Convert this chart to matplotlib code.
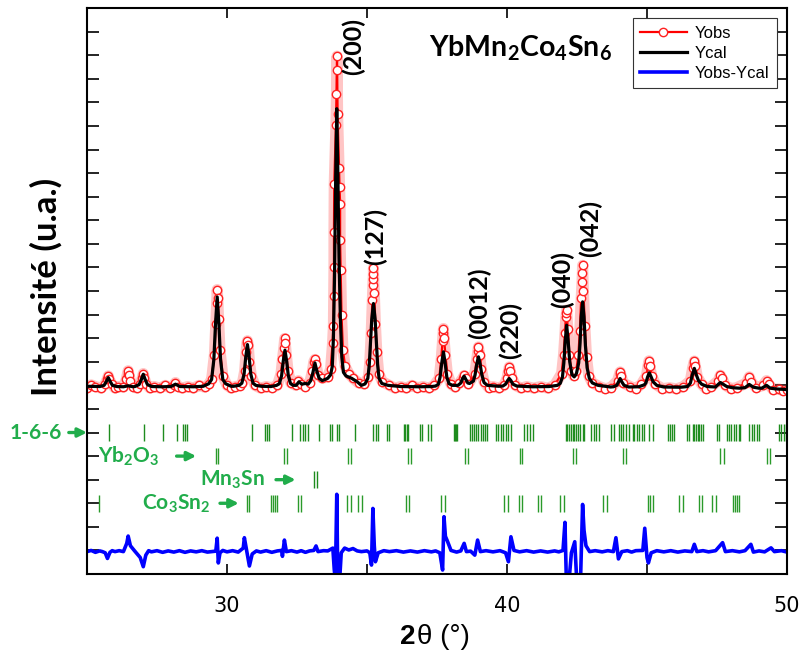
import numpy as np
from matplotlib import pyplot as plt

# Ycal (2theta, intensity in tick units)
ycal_pts = [
    (25.0, 7.96), (25.46, 7.95), (25.61, 8.0), (25.69, 8.16), (25.76, 8.33), (25.83, 8.16), (25.91, 8.0), (26.06, 7.95),
    (26.3, 7.94), (26.47, 7.98), (26.65, 7.94),
    (26.71, 7.95), (26.86, 8.03), (26.94, 8.24), (27.01, 8.47), (27.08, 8.24), (27.16, 8.03), (27.31, 7.95),
    (27.7, 7.94), (28.0, 7.95), (28.16, 8.05), (28.32, 7.95), (28.8, 7.94),
    (29.15, 7.96), (29.35, 8.07), (29.45, 8.25), (29.53, 9.09), (29.59, 10.61), (29.65, 11.75), (29.71, 10.61),
    (29.77, 9.09), (29.85, 8.25), (29.95, 8.07), (30.15, 7.96),
    (30.23, 7.96), (30.43, 8.0), (30.53, 8.09), (30.61, 8.48), (30.67, 9.2), (30.73, 9.73), (30.79, 9.2),
    (30.85, 8.48), (30.93, 8.09), (31.03, 8.0), (31.23, 7.96), (31.5, 7.95),
    (31.57, 7.95), (31.77, 8.0), (31.87, 8.07), (31.95, 8.41), (32.01, 9.03), (32.07, 9.49), (32.13, 9.03),
    (32.19, 8.41), (32.27, 8.07), (32.37, 8.0), (32.47, 8.0), (32.57, 8.15), (32.67, 8.05), (32.8, 8.08),
    (32.9, 8.05), (32.99, 8.2), (33.07, 8.55), (33.14, 8.95), (33.21, 8.6), (33.29, 8.3), (33.4, 8.2),
    (33.6, 8.3), (33.7, 8.45), (33.76, 8.8), (33.8, 10.0), (33.84, 12.6), (33.88, 16.6), (33.92, 19.73),
    (33.96, 16.9), (34.0, 13.4), (34.05, 10.8), (34.1, 9.2), (34.16, 8.55), (34.25, 8.4), (34.45, 8.3),
    (34.65, 8.15), (34.8, 8.0),
    (34.93, 8.06), (35.03, 8.3), (35.08, 8.86), (35.13, 9.9), (35.17, 10.8), (35.23, 11.47), (35.29, 10.8),
    (35.33, 9.9), (35.38, 8.86), (35.43, 8.3), (35.53, 8.08), (35.75, 8.0),
    (36.2, 7.95), (36.9, 7.94), (37.3, 7.95),
    (37.45, 7.97), (37.55, 8.05), (37.61, 8.35), (37.67, 8.95), (37.73, 9.42), (37.79, 8.95), (37.85, 8.35),
    (37.93, 8.07), (38.05, 8.0),
    (38.25, 8.0), (38.35, 8.1), (38.41, 8.28), (38.47, 8.39), (38.53, 8.25), (38.6, 8.1),
    (38.66, 8.08), (38.8, 8.18), (38.86, 8.45), (38.92, 8.9), (38.98, 9.21), (39.04, 8.9), (39.1, 8.45),
    (39.18, 8.12), (39.3, 8.0), (39.7, 7.96),
    (39.85, 7.97), (39.95, 8.05), (40.02, 8.2), (40.08, 8.29), (40.14, 8.2), (40.21, 8.05), (40.35, 7.97),
    (40.9, 7.94), (41.5, 7.95), (41.8, 8.0),
    (41.9, 8.08), (41.98, 8.35), (42.03, 8.95), (42.08, 9.9), (42.13, 10.55), (42.18, 9.95), (42.24, 9.0),
    (42.32, 8.45), (42.4, 8.36),
    (42.48, 8.5), (42.56, 8.95), (42.61, 9.8), (42.65, 10.9), (42.7, 11.54), (42.75, 10.9), (42.8, 9.7),
    (42.86, 8.75), (42.94, 8.3), (43.05, 8.1), (43.25, 8.0), (43.7, 7.93),
    (43.8, 7.94), (43.92, 8.0), (43.98, 8.15), (44.04, 8.29), (44.1, 8.15), (44.18, 8.0), (44.35, 7.93),
    (44.7, 7.94), (44.9, 8.02),
    (44.96, 8.1), (45.02, 8.35), (45.08, 8.53), (45.14, 8.38), (45.22, 8.15), (45.35, 8.0), (45.6, 7.93),
    (46.2, 7.92),
    (46.45, 7.95), (46.55, 8.1), (46.62, 8.45), (46.69, 8.72), (46.76, 8.45), (46.84, 8.2), (46.95, 8.05),
    (47.15, 7.95),
    (47.45, 7.93), (47.55, 8.05), (47.62, 8.12), (47.7, 8.06), (47.85, 7.95), (48.05, 7.9), (48.3, 7.88),
    (48.5, 7.9), (48.65, 8.04), (48.8, 7.92), (49.0, 7.88),
    (49.1, 7.88), (49.27, 8.0), (49.4, 7.88), (49.6, 7.85), (50.0, 7.82),
]

# Yobs
yobs_pts = [
    (25.0, 7.9), (25.15, 8.02), (25.3, 7.95), (25.5, 7.88), (25.65, 8.05), (25.72, 8.25), (25.76, 8.4), (25.8, 8.25),
    (25.88, 8.05), (26.0, 7.88), (26.1, 7.95), (26.3, 7.92), (26.4, 8.25), (26.45, 8.5), (26.47, 8.62), (26.5, 8.45),
    (26.55, 8.2), (26.65, 7.95), (26.78, 7.88), (26.9, 8.05), (26.97, 8.3), (27.01, 8.5), (27.05, 8.3), (27.12, 8.05),
    (27.25, 7.88), (27.4, 7.95), (27.6, 7.88), (27.8, 8.0), (27.95, 7.9), (28.1, 8.0), (28.16, 8.12), (28.25, 7.95),
    (28.4, 7.88), (28.6, 7.95), (28.8, 7.88), (29.0, 8.0), (29.2, 7.92), (29.35, 8.05),
    (29.45, 8.25), (29.55, 9.3), (29.6, 10.6), (29.63, 11.5), (29.65, 12.06), (29.67, 11.7), (29.7, 10.8),
    (29.75, 9.5), (29.85, 8.4), (30.0, 8.0), (30.15, 7.88), (30.3, 7.95), (30.45, 7.98),
    (30.55, 8.1), (30.63, 8.6), (30.68, 9.4), (30.71, 9.8), (30.73, 9.89), (30.76, 9.7), (30.8, 9.0),
    (30.87, 8.4), (31.0, 8.0), (31.2, 7.88), (31.4, 7.95), (31.6, 7.9), (31.8, 8.0),
    (31.93, 8.5), (31.98, 9.1), (32.03, 9.6), (32.06, 9.99), (32.08, 9.8), (32.12, 9.3), (32.18, 8.6),
    (32.28, 8.1), (32.45, 8.0), (32.55, 8.2), (32.65, 8.05), (32.8, 7.95),
    (32.95, 8.1), (33.05, 8.6), (33.1, 9.0), (33.14, 9.1), (33.18, 8.9), (33.25, 8.45), (33.4, 8.3),
    (33.6, 8.35), (33.7, 8.7), (33.77, 9.8), (33.8, 10.5), (33.81, 11.8), (33.82, 13.0), (33.82, 14.5),
    (33.83, 16.55), (33.89, 19.03), (33.91, 20.34), (33.92, 21.36), (33.93, 21.96), (33.95, 19.5),
    (34.0, 17.2), (34.02, 16.4), (34.04, 15.7), (34.04, 14.15), (34.06, 12.88), (34.09, 11.0),
    (34.14, 9.5), (34.22, 8.8), (34.35, 8.5), (34.5, 8.3), (34.7, 8.1),
    (34.9, 8.05), (35.05, 8.35), (35.1, 9.0), (35.15, 10.2), (35.19, 11.6), (35.21, 12.25), (35.22, 12.49),
    (35.23, 12.74), (35.23, 12.98), (35.26, 11.9), (35.3, 10.6), (35.35, 9.4), (35.42, 8.5), (35.55, 8.15),
    (35.8, 8.0), (36.0, 7.88), (36.2, 7.95), (36.4, 7.88), (36.6, 8.0), (36.8, 7.9), (37.0, 7.95), (37.2, 7.88),
    (37.4, 8.0), (37.58, 8.3), (37.65, 9.1), (37.7, 9.9), (37.72, 10.2), (37.73, 10.41), (37.75, 10.0), (37.8, 9.3),
    (37.87, 8.5), (38.0, 8.05), (38.15, 7.92), (38.3, 8.1), (38.42, 8.3), (38.47, 8.42), (38.52, 8.3), (38.62, 8.05),
    (38.85, 8.5), (38.92, 9.1), (38.96, 9.45), (38.98, 9.63), (39.02, 9.3), (39.08, 8.7), (39.18, 8.15),
    (39.35, 7.9), (39.5, 7.95), (39.7, 7.88), (39.9, 8.0), (40.0, 8.3), (40.05, 8.6), (40.08, 8.78), (40.12, 8.6),
    (40.18, 8.3), (40.3, 8.0), (40.5, 7.88), (40.7, 7.95), (40.95, 7.88), (41.2, 7.95), (41.45, 7.88), (41.7, 8.0),
    (41.95, 8.5), (42.02, 9.3), (42.07, 10.2), (42.1, 10.9), (42.12, 11.05), (42.13, 11.19), (42.17, 10.4),
    (42.23, 9.3), (42.3, 8.6), (42.38, 8.4), (42.47, 8.6), (42.55, 9.3), (42.6, 10.3), (42.65, 11.7),
    (42.68, 12.38), (42.69, 12.75), (42.7, 13.09), (42.73, 12.0), (42.78, 10.5), (42.84, 9.2), (42.92, 8.4),
    (43.05, 8.1), (43.3, 7.95), (43.5, 7.86), (43.7, 7.9),
    (43.95, 8.2), (44.02, 8.5), (44.04, 8.57), (44.08, 8.4), (44.15, 8.1), (44.4, 7.95), (44.6, 7.86), (44.8, 8.05),
    (44.98, 8.4), (45.04, 8.85), (45.07, 9.04), (45.1, 8.8), (45.17, 8.4), (45.3, 8.05), (45.55, 7.86), (45.8, 7.9),
    (46.05, 7.85), (46.3, 7.95), (46.55, 8.2), (46.63, 8.75), (46.67, 8.95), (46.69, 9.03), (46.73, 8.8), (46.8, 8.35),
    (46.95, 8.05), (47.1, 7.86), (47.3, 7.95), (47.55, 8.2), (47.62, 8.43), (47.68, 8.3), (47.8, 8.0), (48.0, 7.86),
    (48.2, 7.9), (48.55, 8.1), (48.65, 8.36), (48.72, 8.15), (48.9, 7.9), (49.15, 8.0), (49.27, 8.2), (49.35, 8.05),
    (49.5, 7.82), (49.7, 7.85), (49.85, 7.78), (50.0, 7.8),
]

# Yobs-Ycal as drawn (offset curve)
ydiff_pts = [
    (25.0, 0.95), (25.15, 1.0), (25.3, 0.92), (25.45, 0.98), (25.55, 0.95), (25.65, 0.9), (25.73, 0.66),
    (25.82, 0.92), (25.9, 0.99), (26.0, 0.95), (26.15, 0.99), (26.3, 0.95), (26.42, 1.3), (26.47, 1.61),
    (26.55, 1.2), (26.7, 0.98), (26.9, 0.7), (27.01, 0.31), (27.1, 0.8), (27.2, 0.99), (27.3, 0.94),
    (27.5, 0.99), (27.7, 0.92), (27.9, 0.98), (28.1, 0.93), (28.3, 0.99), (28.5, 0.92), (28.7, 0.98),
    (28.9, 0.94), (29.1, 0.99), (29.3, 0.93), (29.6, 0.97), (29.65, 1.52), (29.69, 0.47), (29.75, 0.9),
    (29.85, 1.0), (30.0, 0.94), (30.2, 0.99), (30.4, 0.93), (30.58, 1.1), (30.62, 1.54), (30.7, 1.0),
    (30.8, 0.34), (30.9, 0.85), (31.05, 0.98), (31.2, 0.93), (31.4, 0.99), (31.6, 0.92), (31.8, 0.98),
    (31.95, 1.0), (31.98, 0.75), (32.05, 1.44), (32.12, 0.95), (32.3, 0.99), (32.5, 0.93), (32.65, 0.99),
    (32.8, 0.92), (32.95, 0.98), (33.1, 1.0), (33.18, 1.19), (33.25, 0.95), (33.45, 0.99), (33.6, 0.98),
    (33.78, 1.1), (33.83, 0.2), (33.87, -0.3), (33.92, 3.38), (33.96, -0.5), (34.02, -0.3), (34.08, 0.9),
    (34.2, 1.1), (34.35, 1.02), (34.5, 1.08), (34.65, 0.98), (34.8, 0.95), (35.0, 0.98), (35.1, 0.9),
    (35.16, 0.38), (35.21, 2.78), (35.26, 1.2), (35.3, 0.52), (35.4, 0.9), (35.6, 0.99), (35.8, 0.95),
    (36.05, 0.99), (36.3, 0.93), (36.55, 0.98), (36.8, 0.93), (37.05, 0.99), (37.3, 0.94), (37.45, 0.98),
    (37.6, 0.9), (37.7, 0.17), (37.75, 2.43), (37.8, 1.6), (37.88, 1.37), (38.0, 1.0), (38.2, 0.93),
    (38.35, 0.98), (38.47, 1.3), (38.55, 0.95), (38.7, 0.97), (38.85, 0.8), (38.95, 1.44), (39.05, 0.95),
    (39.25, 0.99), (39.5, 0.94), (39.75, 0.99), (39.95, 0.9), (40.05, 0.52), (40.14, 1.58), (40.25, 1.0),
    (40.45, 0.94), (40.7, 0.99), (40.95, 0.93), (41.2, 0.98), (41.45, 0.93), (41.7, 0.98), (41.85, 0.94),
    (42.0, 1.0), (42.07, 2.19), (42.12, -0.3), (42.2, -0.5), (42.3, 0.9), (42.42, 1.37), (42.5, -0.5),
    (42.62, -0.5), (42.68, 2.0), (42.7, 2.95), (42.75, 1.86), (42.82, 1.2), (42.95, 0.95), (43.15, 0.99),
    (43.4, 0.94), (43.6, 0.99), (43.8, 0.95), (43.89, 1.54), (43.98, 0.64), (44.1, 0.95), (44.3, 0.99),
    (44.45, 0.93), (44.6, 0.99), (44.85, 1.0), (44.92, 1.94), (45.0, 0.7), (45.05, 0.47), (45.15, 0.9),
    (45.35, 0.99), (45.6, 0.94), (45.85, 0.99), (46.1, 0.93), (46.35, 0.98), (46.6, 0.95), (46.69, 1.26),
    (46.78, 0.95), (47.0, 0.99), (47.2, 0.94), (47.45, 0.99), (47.7, 1.33), (47.8, 0.95), (48.05, 0.99),
    (48.3, 0.94), (48.5, 0.99), (48.71, 1.26), (48.8, 0.93), (49.0, 0.98), (49.2, 0.94), (49.43, 1.11),
    (49.55, 0.95), (49.8, 0.99), (50.0, 0.93),
]

# Bragg positions (2theta) of each phase
bragg_166 = [25.79, 27.02, 27.73, 28.21, 28.42, 28.50, 28.57, 30.88, 31.37, 31.43, 31.51, 32.31, 32.62,
             32.70, 32.78, 32.88, 33.30, 33.68, 33.76, 33.92, 34.00, 34.57, 35.23, 35.31, 35.39, 35.70,
             35.79, 36.32, 36.37, 36.42, 36.47, 36.88, 36.98, 37.18, 37.28, 38.09, 38.13, 38.18, 38.23,
             38.67, 38.74, 38.82, 38.91, 38.98, 39.06, 39.15, 39.22, 39.30, 39.60, 39.68, 39.78, 39.87,
             39.97, 40.05, 40.15, 40.61, 40.73, 40.83, 40.93, 42.10, 42.16, 42.22, 42.28, 42.34, 42.40,
             42.46, 42.52, 42.61, 42.70, 42.76, 43.00, 43.09, 43.18, 43.27, 43.71, 43.81, 44.01, 44.07,
             44.16, 44.25, 44.34, 44.49, 44.54, 44.64, 44.72, 44.81, 44.90, 45.08, 45.20, 45.75, 45.82,
             45.89, 45.96, 46.43, 46.51, 46.63, 46.69, 46.75, 46.81, 46.87, 46.93, 46.99, 47.50, 47.58,
             47.85, 47.92, 48.00, 48.10, 48.18, 48.27, 48.33, 48.65, 48.75, 48.83, 48.93, 49.01, 49.70,
             49.79, 49.88, 49.96]
bragg_yb2o3 = [29.60, 29.69, 32.04, 32.13, 34.32, 34.42, 36.47, 36.56, 38.50, 38.59, 40.46, 40.55,
               42.34, 42.46, 44.16, 44.25, 47.62, 47.74, 49.29, 49.40]
bragg_mn3sn = [33.11, 33.21]
bragg_co3sn2 = [25.44, 30.71, 30.80, 31.57, 31.64, 31.71, 31.78, 32.55, 32.63, 34.30, 34.42, 34.69,
                34.81, 36.38, 36.50, 37.66, 37.78, 39.90, 40.02, 40.43, 40.53, 41.09, 41.21, 41.90,
                42.02, 43.44, 43.57, 45.04, 45.12, 45.20, 46.15, 46.27, 46.84, 46.96, 47.32, 47.46,
                48.06, 48.14, 48.21, 48.30]
phase_rows = [6.0, 5.0, 4.0, 3.0]

peak_labels = ['(200)', '(127)', '(0012)', '(220)', '(040)', '(042)']
peak_label_pos = [(34.52, 22.35), (35.31, 14.3), (39.03, 11.48), (40.14, 10.34), (41.99, 12.5), (42.99, 14.65)]

GREEN = '#21ad4b'
plt.rcParams['mathtext.fontset'] = 'custom'
plt.rcParams['mathtext.rm'] = 'Lato'
plt.rcParams['mathtext.bf'] = 'Lato:bold'

fig = plt.figure(figsize=(8, 6.62), dpi=100)
ax = fig.add_axes([0.10875, 0.1329, 0.875, 0.855])

obs = np.array(yobs_pts)
cal = np.array(ycal_pts)
dif = np.array(ydiff_pts)

ax.plot(obs[:, 0], obs[:, 1], color='#ff4040', lw=8, alpha=0.3, solid_joinstyle='round', label='_nolegend_')
ax.plot(obs[:, 0], obs[:, 1], '-o', color='red', lw=1.6, mfc='white', mec='#ff2020', ms=6, mew=1.0, label='Yobs')
ax.plot(cal[:, 0], cal[:, 1], color='black', lw=2.3, label='Ycal')
ax.plot(dif[:, 0], dif[:, 1], color='blue', lw=2.6, label='Yobs-Ycal')

for pos, row, col in zip([bragg_166, bragg_yb2o3, bragg_mn3sn, bragg_co3sn2], phase_rows,
                         ['#1e8c1e', '#2a9a2a', '#1e8c1e', '#2a9a2a']):
    ax.vlines(pos, row - 0.35, row + 0.35, color=col, lw=1.0)

ax.set_xlim(25, 50)
ax.set_ylim(0, 24)
ax.set_xticks([30, 40, 50])
ax.set_xticks([35, 45], minor=True)
ax.set_yticks(np.arange(0, 25, 1))
ax.tick_params(axis='both', which='both', direction='in', top=True, right=True, width=1.2)
ax.tick_params(axis='x', which='both', length=7.5, pad=16, labelsize=15)
ax.tick_params(axis='y', length=8.5, labelleft=False)
for sp in ax.spines.values():
    sp.set_linewidth(1.5)

# peak indexing
for txt, (x, y) in zip(peak_labels, peak_label_pos):
    ax.text(x, y, txt, rotation=90, ha='center', va='center', fontsize=18, fontweight='bold', family='Lato')

ax.text(37.2, 22.3, r'YbMn$_\mathbf{2}$Co$_\mathbf{4}$Sn$_\mathbf{6}$', fontsize=20.5, fontweight='bold',
        family='Lato', va='center')

# phase labels with arrows
phase_text = ['1-6-6', r'Yb$_\mathbf{2}$O$_\mathbf{3}$', r'Mn$_\mathbf{3}$Sn', r'Co$_\mathbf{3}$Sn$_\mathbf{2}$']
text_x = [22.25, 25.41, 29.05, 26.98]
arrow_x = [(24.35, 25.0), (28.2, 28.9), (31.75, 32.45), (29.75, 30.42)]
for txt, tx, (a0, a1), row in zip(phase_text, text_x, arrow_x, phase_rows):
    ax.text(tx, row, txt, color=GREEN, fontsize=15, fontweight='bold', family='Lato', va='center',
            clip_on=False)
    ax.annotate('', xy=(a1, row), xytext=(a0, row), annotation_clip=False,
                arrowprops=dict(arrowstyle='-|>', color=GREEN, lw=2.4, mutation_scale=13, shrinkA=0, shrinkB=0))

leg = ax.legend(loc='upper right', bbox_to_anchor=(0.986, 0.982), borderaxespad=0, fancybox=False,
                edgecolor='#333333', framealpha=1, handlelength=2.8, handletextpad=0.5, labelspacing=0.3,
                borderpad=0.45, prop={'family': 'Liberation Sans', 'size': 12})
leg.get_frame().set_linewidth(0.8)

fig.text(0.058, 1 - 287 / 662, 'Intensité (u.a.)', rotation=90, ha='center', va='center', fontsize=25,
         fontweight='bold', family='Lato')
fig.text(0.5195, 1 - 637 / 662, '2', ha='right', va='center', fontsize=20, fontweight='bold',
         family='Liberation Sans')
fig.text(0.5215, 1 - 637 / 662, 'θ (°)', ha='left', va='center', fontsize=20, family='Liberation Sans')

plt.savefig('out.png', dpi=100)
